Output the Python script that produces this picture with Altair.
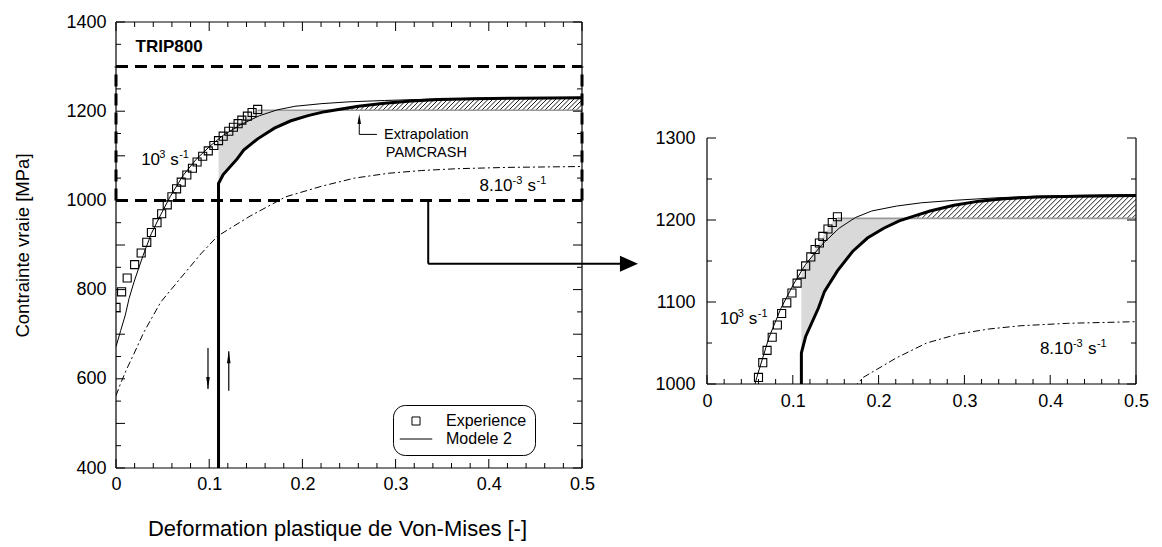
import altair as alt
import numpy as np
import pandas as pd

FONT = "Liberation Sans"

# ---------------- values ----------------
# experimental points (10^3 s^-1)
exp_x = [0.000, 0.006, 0.012, 0.020, 0.027, 0.033, 0.038, 0.044, 0.049, 0.055,
         0.060, 0.065, 0.070, 0.076, 0.082, 0.087, 0.093, 0.099, 0.105, 0.110,
         0.115, 0.121, 0.126, 0.131, 0.135, 0.141, 0.146, 0.152]
exp_y = [760, 795, 826, 856, 882, 906, 928, 950, 970, 990,
         1008, 1026, 1041, 1057, 1072, 1086, 1099, 1111, 1123, 1134,
         1144, 1155, 1164, 1172, 1180, 1189, 1197, 1204]

# Modele 2, 10^3 s^-1 (thin line)
fast_x = [0, 0.005, 0.01, 0.014, 0.019, 0.024, 0.029, 0.038, 0.048, 0.058, 0.072, 0.086,
          0.101, 0.115, 0.134, 0.154, 0.173, 0.192, 0.221, 0.25, 0.288, 0.336, 0.384, 0.432, 0.5]
fast_y = [672, 708, 743, 780, 815, 846, 876, 926, 968, 1008, 1056, 1092,
          1122, 1146, 1170, 1190, 1203, 1211, 1217, 1221, 1224, 1227, 1229, 1230, 1231]

# reloaded curve (thick line)
thick_x = [0.11, 0.11, 0.115, 0.13, 0.137, 0.152, 0.17, 0.187, 0.206, 0.224,
           0.242, 0.26, 0.288, 0.317, 0.346, 0.384, 0.432, 0.5]
thick_y = [400, 1038, 1058, 1093, 1113, 1138, 1162, 1178, 1190, 1199,
           1205, 1211, 1218, 1223, 1226, 1228, 1229, 1230]

# Modele 2, 8.10^-3 s^-1 (dash-dot line)
slow_x = [0, 0.005, 0.0115, 0.019, 0.03, 0.048, 0.069, 0.091, 0.109, 0.144,
          0.182, 0.221, 0.256, 0.293, 0.328, 0.365, 0.42, 0.5]
slow_y = [562, 590, 622, 655, 705, 772, 825, 880, 920, 965,
          1008, 1032, 1050, 1061, 1067, 1071, 1074, 1076]

PAM_LEVEL = 1202          # PAMCRASH extrapolation level

# axes
x_major = [0, 0.1, 0.2, 0.3, 0.4, 0.5]
left_y_major = [400, 600, 800, 1000, 1200, 1400]
right_y_major = [1000, 1100, 1200, 1300]
left_xdom, left_ydom = [0, 0.5], [400, 1400]
zoom_xdom, zoom_ydom = [0, 0.5], [1000, 1300]

# annotations
conn_x, conn_y, conn_tip_x = 0.335, 858, 0.56
down_arrow = dict(x=0.0987, y_from=669, y_tip=577)
up_arrow = dict(x=0.121, y_from=573, y_tip=662)
extra_arrow = dict(x=0.261, y_from=1148, y_tip=1194, x_end=0.28)

LEFT_W, LEFT_H = 466, 446
RIGHT_W, RIGHT_H = 429, 246
RIGHT_DROP = 107           # blank space above the zoom panel (px)

SQ_PATH = "M-0.62,-0.62H0.62V0.62H-0.62Z"
LINE_PATH = "M-2.5,0H2.5"

one = pd.DataFrame({"a": [0]})


def make_axis(values, fmt, pad, title=None, title_pad=0, title_size=18, title_x=None):
    kw = dict(values=values, format=fmt, ticks=False, tickSize=0, domain=False,
              grid=False, labelFont=FONT, labelFontSize=18, labelColor="black",
              labelPadding=pad, labelFlush=False, labelOverlap=False)
    if title is None:
        kw["title"] = None
    else:
        kw.update(title=title, titlePadding=title_pad, titleFont=FONT,
                  titleFontSize=title_size, titleFontWeight="normal", titleColor="black")
        if title_x is not None:
            kw["titleX"] = title_x
    return alt.Axis(**kw)


def hatch_rows(sx, sy, step_px, xmax):
    slope = sx / sy
    tx, ty = thick_x[1:], thick_y[1:]
    fine = np.linspace(tx[0], xmax, 3000)
    th = np.interp(fine, tx, ty)
    x_cross = fine[np.argmax(th > PAM_LEVEL)]
    rows = []
    xb = x_cross
    while xb < xmax - 1e-6:
        xs_ = np.linspace(xb, xmax, 600)
        yl = PAM_LEVEL + slope * (xs_ - xb)
        tt = np.interp(xs_, tx, ty)
        hit = np.nonzero(yl >= tt)[0]
        if len(hit):
            xe, ye = xs_[hit[0]], yl[hit[0]]
        else:
            xe, ye = xmax, PAM_LEVEL + slope * (xmax - xb)
        rows.append((xb, PAM_LEVEL, xe, ye))
        xb += step_px / sx
    return pd.DataFrame(rows, columns=["x", "y", "x2", "y2"])


def build_panel(W, H, xdom, ydom, y_major, left_panel, hatch_step):
    xs = alt.Scale(domain=xdom, nice=False, zero=False)
    ys = alt.Scale(domain=ydom, nice=False, zero=False)
    if left_panel:
        xaxis = make_axis(x_major, "~g", 7, "Deformation plastique de Von-Mises [-]",
                          25, 22, 221)
        yaxis = make_axis(y_major, "d", 10, "Contrainte vraie [MPa]", 33, 18.5)
    else:
        xaxis = make_axis(x_major, "~g", 8)
        yaxis = make_axis(y_major, "d", 12)

    def X(f):
        return alt.X(f, type="quantitative", scale=xs, axis=xaxis)

    def Y(f):
        return alt.Y(f, type="quantitative", scale=ys, axis=yaxis)

    sx = W / (xdom[1] - xdom[0])
    sy = H / (ydom[1] - ydom[0])
    layers = []

    # gray region between experiment / PAMCRASH level and the thick curve
    gx = np.linspace(thick_x[0], 0.27, 300)
    top = np.where(gx <= exp_x[-1], np.interp(gx, exp_x, exp_y), PAM_LEVEL)
    bot = np.interp(gx, thick_x[1:], thick_y[1:])
    m = top >= bot
    area_df = pd.DataFrame({"x": gx[m], "top": top[m], "bot": bot[m]})
    layers.append(alt.Chart(area_df).mark_area(color="#d9d9d9", clip=True)
                  .encode(x=X("x"), y=Y("top"), y2="bot"))

    # hatched band (extrapolation)
    hdf = hatch_rows(sx, sy, hatch_step, xdom[1])
    layers.append(alt.Chart(hdf).mark_rule(color="black", strokeWidth=0.9, clip=True)
                  .encode(x=X("x"), y=Y("y"), x2="x2", y2="y2"))

    # PAMCRASH level line
    lvl = pd.DataFrame({"x": [exp_x[-1]], "x2": [xdom[1]], "y": [PAM_LEVEL]})
    layers.append(alt.Chart(lvl).mark_rule(color="#9a9a9a", strokeWidth=1.6)
                  .encode(x=X("x"), x2="x2", y=Y("y")))

    if left_panel:
        rh = pd.DataFrame({"y": zoom_ydom, "x": [zoom_xdom[0]] * 2, "x2": [zoom_xdom[1]] * 2})
        rv = pd.DataFrame({"x": zoom_xdom, "y": [zoom_ydom[0]] * 2, "y2": [zoom_ydom[1]] * 2})
        layers.append(alt.Chart(rh).mark_rule(color="black", strokeWidth=3, strokeDash=[12, 7])
                      .encode(x=X("x"), x2="x2", y=Y("y")))
        layers.append(alt.Chart(rv).mark_rule(color="black", strokeWidth=3, strokeDash=[12, 7])
                      .encode(x=X("x"), y=Y("y"), y2="y2"))

    def line_df(xv, yv):
        return pd.DataFrame({"x": xv, "y": yv, "i": range(len(xv))})

    layers.append(alt.Chart(line_df(slow_x, slow_y))
                  .mark_line(color="black", strokeWidth=1, strokeDash=[7, 3, 2, 3], clip=True)
                  .encode(x=X("x"), y=Y("y"), order="i:Q"))
    layers.append(alt.Chart(line_df(fast_x, fast_y))
                  .mark_line(color="black", strokeWidth=1, clip=True)
                  .encode(x=X("x"), y=Y("y"), order="i:Q"))
    layers.append(alt.Chart(line_df(thick_x, thick_y))
                  .mark_line(color="black", strokeWidth=3, clip=True, strokeJoin="miter")
                  .encode(x=X("x"), y=Y("y"), order="i:Q"))

    exp_df = pd.DataFrame({"x": exp_x, "y": exp_y, "s": "Experience"})
    if left_panel:
        legend = alt.Legend(title=None, orient="none", legendX=277, legendY=383,
                            strokeColor="black", cornerRadius=12, padding=8,
                            labelFont=FONT, labelFontSize=16, labelColor="black",
                            symbolSize=169, symbolStrokeColor="black",
                            symbolStrokeWidth=1, symbolFillColor="transparent",
                            symbolOffset=7, labelOffset=22, rowPadding=2)
        layers.append(alt.Chart(exp_df)
                      .mark_point(filled=False, color="black", strokeWidth=1.1,
                                  size=169, opacity=1, clip=True)
                      .encode(x=X("x"), y=Y("y"),
                              shape=alt.Shape("s:N", scale=alt.Scale(
                                  domain=["Experience", "Modele 2"],
                                  range=[SQ_PATH, LINE_PATH]), legend=legend)))
    else:
        layers.append(alt.Chart(exp_df)
                      .mark_point(filled=False, color="black", strokeWidth=1.1,
                                  size=169, opacity=1, clip=True, shape=SQ_PATH)
                      .encode(x=X("x"), y=Y("y")))

    # rate labels with superscripts
    def sup_label(x, y, pieces):
        out = []
        for t, dx, dy, fs in pieces:
            d = pd.DataFrame({"x": [x], "y": [y], "t": [t]})
            out.append(alt.Chart(d).mark_text(align="left", baseline="alphabetic",
                                              dx=dx, dy=dy, fontSize=fs, font=FONT,
                                              color="black")
                       .encode(x=X("x"), y=Y("y"), text="t:N"))
        return out

    fast_pieces = [("10", 0, 0, 17), ("3", 18, -7, 11), ("s", 29, 0, 17), ("-1", 38, -7, 11)]
    slow_pieces = [("8.10", 0, 0, 17), ("-3", 33, -7, 11), ("s", 48, 0, 17), ("-1", 57, -7, 11)]
    if left_panel:
        layers += sup_label(0.027, 1079, fast_pieces)
        layers += sup_label(0.39, 1020, slow_pieces)
    else:
        layers += sup_label(0.015, 1073, fast_pieces)
        layers += sup_label(0.388, 1036, slow_pieces)

    if left_panel:
        # title
        layers.append(alt.Chart(pd.DataFrame({"x": [0.021], "y": [1333], "t": ["TRIP800"]}))
                      .mark_text(align="left", baseline="alphabetic", fontSize=17,
                                 fontWeight="bold", font=FONT, color="black")
                      .encode(x=X("x"), y=Y("y"), text="t:N"))
        # Extrapolation PAMCRASH
        ann = pd.DataFrame({"x": [0.333, 0.333], "y": [1147, 1106],
                            "t": ["Extrapolation", "PAMCRASH"]})
        layers.append(alt.Chart(ann).mark_text(align="center", baseline="middle",
                                               fontSize=14.5, font=FONT, color="black")
                      .encode(x=X("x"), y=Y("y"), text="t:N"))
        ea = extra_arrow
        layers.append(alt.Chart(pd.DataFrame({"x": [ea["x"]], "y": [ea["y_from"]], "y2": [ea["y_tip"] - 10]}))
                      .mark_rule(color="black", strokeWidth=1).encode(x=X("x"), y=Y("y"), y2="y2"))
        layers.append(alt.Chart(pd.DataFrame({"x": [ea["x"]], "x2": [ea["x_end"]], "y": [ea["y_from"]]}))
                      .mark_rule(color="black", strokeWidth=1).encode(x=X("x"), x2="x2", y=Y("y")))
        layers.append(alt.Chart(pd.DataFrame({"x": [ea["x"]], "y": [ea["y_tip"]]}))
                      .mark_point(shape="M-0.35,1L0.35,1L0,-1Z", size=100, filled=True,
                                  color="black", opacity=1, yOffset=5)
                      .encode(x=X("x"), y=Y("y")))
        # down / up arrows
        for a, shape, off in [(down_arrow, "M-0.3,-1L0.3,-1L0,1Z", -6),
                              (up_arrow, "M-0.3,1L0.3,1L0,-1Z", 6)]:
            layers.append(alt.Chart(pd.DataFrame({"x": [a["x"]], "y": [a["y_from"]], "y2": [a["y_tip"]]}))
                          .mark_rule(color="black", strokeWidth=1.2).encode(x=X("x"), y=Y("y"), y2="y2"))
            layers.append(alt.Chart(pd.DataFrame({"x": [a["x"]], "y": [a["y_tip"]]}))
                          .mark_point(shape=shape, size=144, filled=True, color="black",
                                      opacity=1, yOffset=off)
                          .encode(x=X("x"), y=Y("y")))
        # connector to the zoom panel
        layers.append(alt.Chart(pd.DataFrame({"x": [conn_x], "y": [zoom_ydom[0]], "y2": [conn_y]}))
                      .mark_rule(color="black", strokeWidth=2).encode(x=X("x"), y=Y("y"), y2="y2"))
        layers.append(alt.Chart(pd.DataFrame({"x": [conn_x], "x2": [conn_tip_x - 0.01], "y": [conn_y]}))
                      .mark_rule(color="black", strokeWidth=2).encode(x=X("x"), x2="x2", y=Y("y")))
        layers.append(alt.Chart(pd.DataFrame({"x": [conn_tip_x], "y": [conn_y]}))
                      .mark_point(shape="M-1,-0.89L1,0L-1,0.89Z", size=324, filled=True,
                                  color="black", opacity=1, xOffset=-9)
                      .encode(x=X("x"), y=Y("y")))

    # inward ticks
    def ticks(vals, length, axis_ch):
        d = pd.DataFrame({"v": vals})
        c = alt.Chart(d).mark_rule(color="black", strokeWidth=1)
        res = []
        if axis_ch == "x":
            res.append(c.encode(x=X("v"), y=alt.value(H), y2=alt.value(H - length)))
            if left_panel:
                res.append(c.encode(x=X("v"), y=alt.value(0), y2=alt.value(length)))
        else:
            res.append(c.encode(y=Y("v"), x=alt.value(0), x2=alt.value(length)))
            res.append(c.encode(y=Y("v"), x=alt.value(W), x2=alt.value(W - length)))
        return res

    x_minor = [v for v in np.round(np.arange(xdom[0], xdom[1] + 1e-9, 0.02), 3)
               if not np.isclose(v * 10, round(v * 10))]
    y_minor = [v for v in np.arange(ydom[0], ydom[1] + 1, 50) if v % 100 != 0]
    y_maj_all = [v for v in np.arange(ydom[0], ydom[1] + 1, 100)]
    layers += ticks(x_major, 9, "x") + ticks(x_minor, 5, "x")
    layers += ticks(y_maj_all, 9, "y") + ticks(y_minor, 5, "y")

    # frame
    fr = alt.Chart(one).mark_rule(color="black", strokeWidth=1.2)
    layers += [fr.encode(x=alt.value(0), y=alt.value(0), y2=alt.value(H)),
               fr.encode(x=alt.value(W), y=alt.value(0), y2=alt.value(H)),
               fr.encode(y=alt.value(H), x=alt.value(0), x2=alt.value(W))]
    if left_panel:
        layers.append(fr.encode(y=alt.value(0), x=alt.value(0), x2=alt.value(W)))

    return alt.layer(*layers).properties(width=W, height=H)


left = build_panel(LEFT_W, LEFT_H, left_xdom, left_ydom, left_y_major, True, 4.5)
right = build_panel(RIGHT_W, RIGHT_H, zoom_xdom, zoom_ydom, right_y_major, False, 5)

# invisible block that pushes the zoom panel down
spacer = (alt.Chart(one).mark_point(opacity=0)
          .encode(x=alt.value(0), y=alt.value(0))
          .properties(width=RIGHT_W, height=RIGHT_DROP))

chart = (alt.hconcat(left, alt.vconcat(spacer, right, spacing=0), spacing=16)
         .resolve_scale(x="independent", y="independent", shape="independent")
         .configure(font=FONT)
         .configure_view(strokeWidth=0, stroke="white"))

chart.save("out.html", embed_options={"renderer": "svg", "actions": False})
